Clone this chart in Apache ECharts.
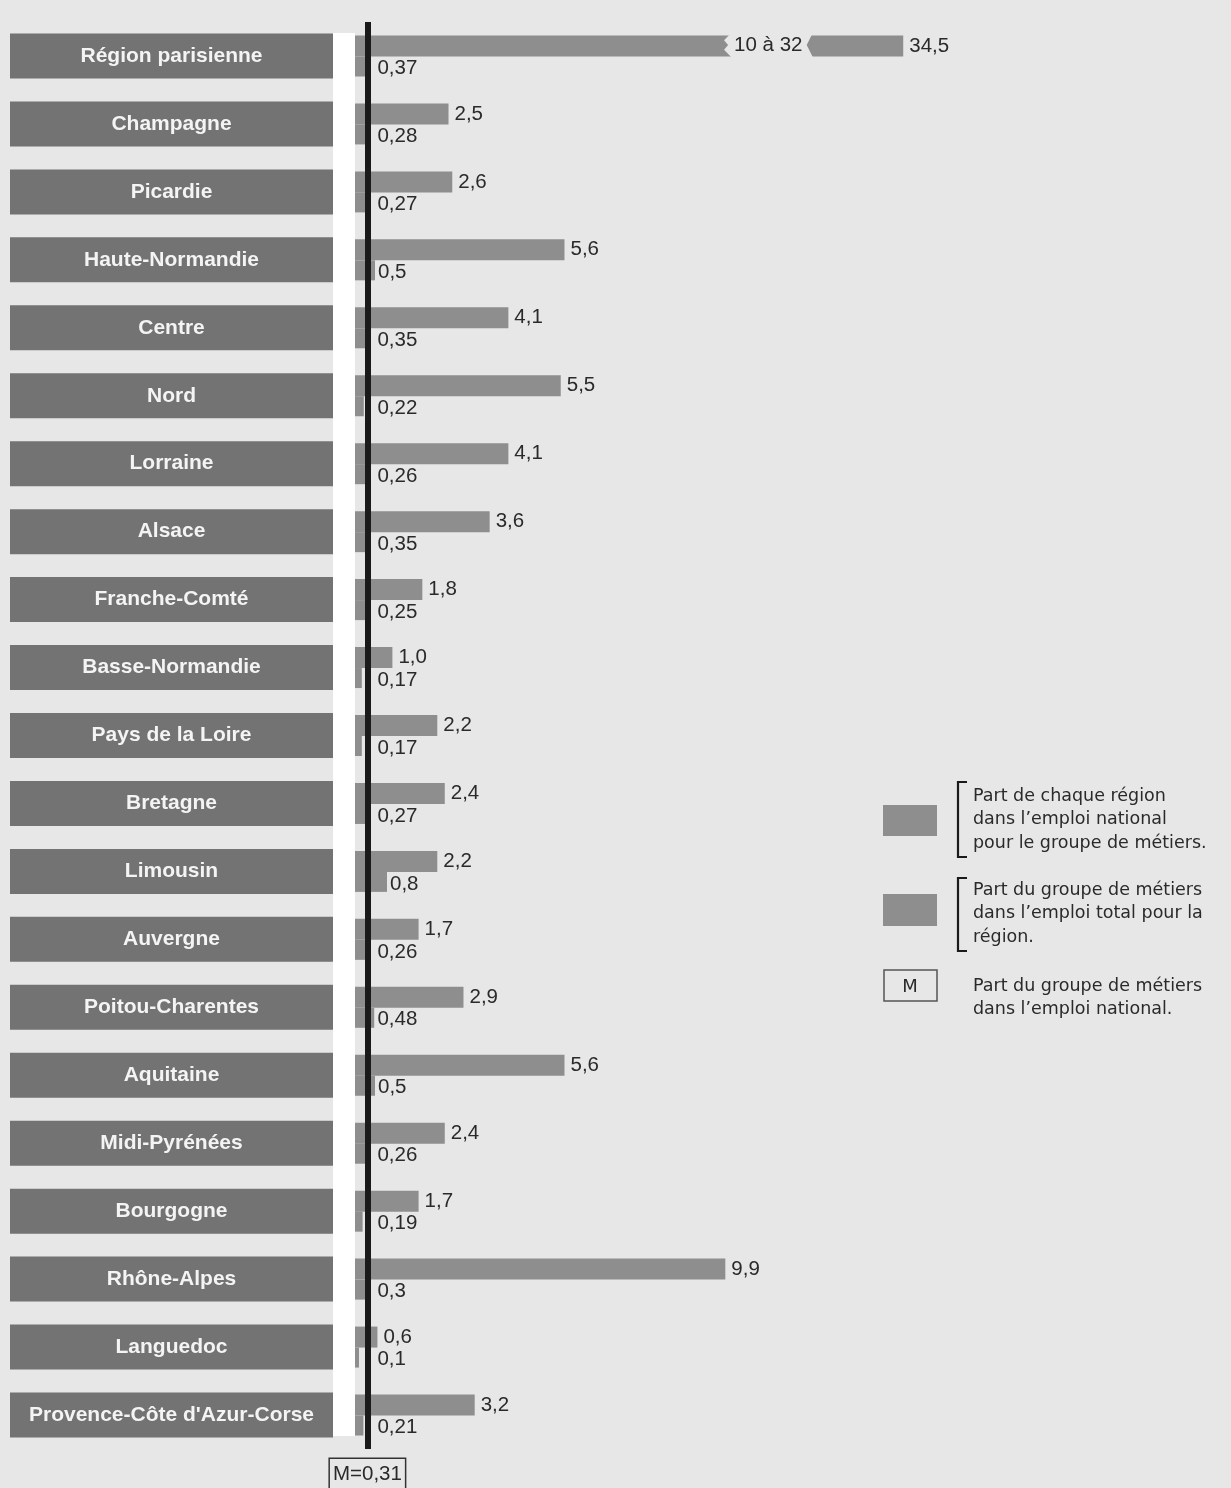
<!DOCTYPE html>
<html>
<head>
<meta charset="utf-8">
<script src="https://cdn.jsdelivr.net/npm/echarts@6/dist/echarts.min.js"></script>
<style>
html,body{margin:0;padding:0;background:#e7e7e7;}
#c{width:1231px;height:1488px;}
</style>
</head>
<body>
<div id="c"></div>
<script>
const regions = ['Région parisienne','Champagne','Picardie','Haute-Normandie','Centre','Nord','Lorraine','Alsace','Franche-Comté','Basse-Normandie','Pays de la Loire','Bretagne','Limousin','Auvergne','Poitou-Charentes','Aquitaine','Midi-Pyrénées','Bourgogne','Rhône-Alpes','Languedoc',"Provence-Côte d'Azur-Corse"];
const nationalShare = [34.5,2.5,2.6,5.6,4.1,5.5,4.1,3.6,1.8,1.0,2.2,2.4,2.2,1.7,2.9,5.6,2.4,1.7,9.9,0.6,3.2];
const regionalShare = [0.37,0.28,0.27,0.5,0.35,0.22,0.26,0.35,0.25,0.17,0.17,0.27,0.8,0.26,0.48,0.5,0.26,0.19,0.3,0.1,0.21];
const meanShare = 0.31;
const breakRange = [10, 32];
const legendTexts = [
  ['Part de chaque région','dans l\u2019emploi national','pour le groupe de métiers.'],
  ['Part du groupe de métiers','dans l\u2019emploi total pour la','région.'],
  ['Part du groupe de métiers','dans l\u2019emploi national.']
];

(function(){
const BG = '#e7e7e7', BAR = '#8e8e8e', BOX = '#737373', TXT = '#2a2a2a';
const FONT = 'Liberation Sans';
const fmt = v => (Number.isInteger(v) ? v.toFixed(1) : String(v)).replace('.', ',');

const chart = echarts.init(document.getElementById('c'), null, {renderer:'canvas'});

function baseOption(lowerData, graphics){
  return {
    backgroundColor: BG,
    animation: false,
    grid: {left: 355, right: 36, top: 22, bottom: 39, containLabel: false},
    xAxis: [
      {type:'value', min:0, max:42.3, position:'top',
       axisLine:{show:false}, axisTick:{show:false}, axisLabel:{show:false}, splitLine:{show:false},
       breaks:[{start:breakRange[0], end:breakRange[1], gap:'9.6%'}],
       breakArea:{show:false}},
      {type:'value', min:0, max:21, position:'bottom',
       axisLine:{show:false}, axisTick:{show:false}, axisLabel:{show:false}, splitLine:{show:false}}
    ],
    yAxis: {type:'category', inverse:true, data:regions,
      axisLine:{show:false}, axisTick:{show:false}, splitLine:{show:false},
      axisLabel:{margin:22, formatter: v => '{b|' + v + '}',
        rich:{b:{width:323, height:45, lineHeight:45, align:'center', backgroundColor:BOX,
          color:'#f4f4f4', fontSize:21, fontWeight:'bold', fontFamily:FONT}}}
    },
    series: [
      {type:'bar', name:'national', xAxisIndex:0, yAxisIndex:0, data:nationalShare,
       barWidth:21, barGap:'0%', itemStyle:{color:BAR},
       label:{show:true, position:'right', distance:6, formatter:p => fmt(p.value),
              color:TXT, fontSize:20.5, fontFamily:FONT}},
      {type:'bar', name:'regional', xAxisIndex:1, yAxisIndex:0, data:lowerData,
       barWidth:20, barGap:'0%', itemStyle:{color:BAR},
       label:{show:true, position:'right', distance:3, formatter:p => fmt(p.value),
              color:TXT, fontSize:20.5, fontFamily:FONT, offset:[0,2]},
       markLine:{silent:true, symbol:'none', z:10,
         lineStyle:{color:'#1a1a1a', width:6, type:'solid'},
         label:{show:true, position:'end', formatter:'M=' + fmt(meanShare),
           color:TXT, fontSize:20.5, fontFamily:FONT, backgroundColor:BG,
           borderColor:'#333', borderWidth:1.5, padding:[5,3,3,3], distance:10},
         data:[{xAxis:meanShare}]}}
    ],
    graphic: graphics
  };
}

chart.setOption(baseOption(regionalShare, []));

const mPx = chart.convertToPixel({xAxisIndex:1}, meanShare);
const lowerItems = regionalShare.map(v => {
  const end = chart.convertToPixel({xAxisIndex:1}, v);
  return {value:v, label:{distance: Math.max(3, mPx + 10 - end)}};
});
const x0 = chart.convertToPixel({xAxisIndex:0}, breakRange[0]);
const x1 = chart.convertToPixel({xAxisIndex:0}, breakRange[1]);
const yc = chart.convertToPixel({yAxisIndex:0}, regions[0]);
const yTop = yc - 23, yBot = yc + 1, yMid = (yTop + yBot) / 2;
const q1 = yTop + (yBot - yTop) * 0.3, q2 = yTop + (yBot - yTop) * 0.7;

const g = [];
g.push({type:'rect', z:-1, shape:{x:333, y:33, width:22, height:1403}, style:{fill:'#ffffff'}});
g.push({type:'polygon', z:100, shape:{points:[
  [x0+2,yTop],[x1+3,yTop],[x1-3,yMid],[x1+3,yBot],[x0+2,yBot],[x0-5,q2],[x0-1,yMid],[x0-5,q1]]}, style:{fill:BG}});
g.push({type:'text', z:101, x:x0+5, y:yMid, style:{text: breakRange[0] + ' à ' + breakRange[1], font:'20.5px "' + FONT + '"', fill:TXT, verticalAlign:'middle'}});
const lg = {fill:BAR};
g.push({type:'rect', z:100, shape:{x:883, y:805, width:54, height:31}, style:lg});
g.push({type:'rect', z:100, shape:{x:883, y:894, width:54, height:32}, style:lg});
g.push({type:'rect', z:100, shape:{x:884, y:970, width:53, height:31}, style:{fill:BG, stroke:'#555', lineWidth:1.5}});
g.push({type:'text', z:101, x:910, y:987, style:{text:'M', font:'18px "DejaVu Sans"', fill:TXT, align:'center', verticalAlign:'middle'}});
const bracket = (y1, y2) => ({type:'polyline', z:100, shape:{points:[[967,y1],[958,y1],[958,y2],[967,y2]]}, style:{stroke:'#1a1a1a', lineWidth:2.2, fill:null}});
g.push(bracket(782, 857));
g.push(bracket(878, 951));
const lineY = [[796,819,843],[890,913,937],[986,1009]];
legendTexts.forEach((lines, i) => lines.forEach((t, j) => {
  g.push({type:'text', z:101, x:973, y:lineY[i][j], style:{text:t, font:'17.5px "DejaVu Sans"', fill:TXT, verticalAlign:'middle'}});
}));

chart.setOption(baseOption(lowerItems, g), {replaceMerge:['graphic']});
})();
</script>
</body>
</html>
